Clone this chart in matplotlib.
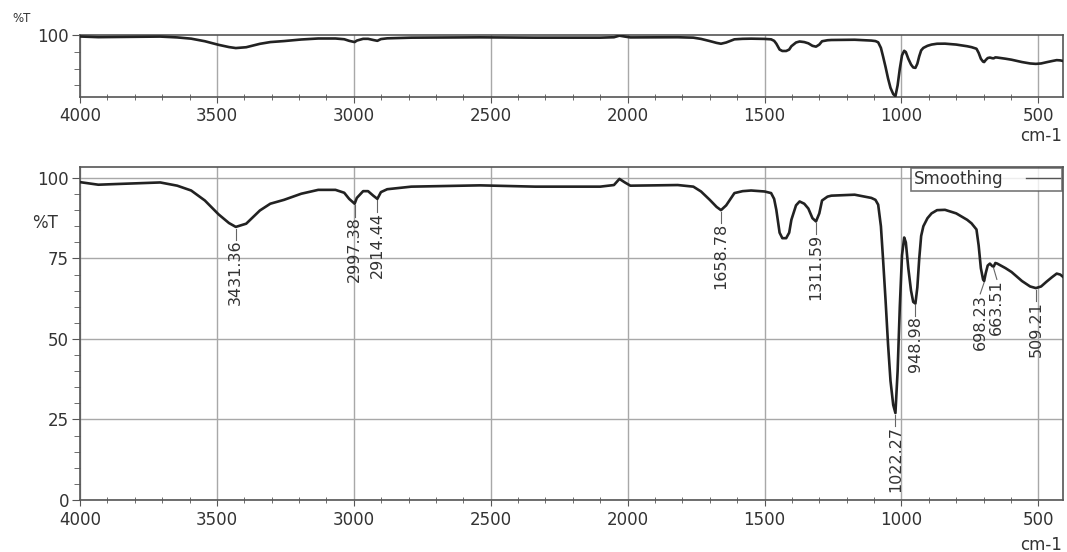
import matplotlib.pyplot as plt
from matplotlib.ticker import MultipleLocator, FixedLocator

# spectrum (wavenumber cm-1, %T)
wavenumber = [4000, 3933, 3871, 3707, 3645, 3594, 3544, 3494, 3456, 3431,
              3393, 3343, 3305, 3255, 3192, 3130, 3067, 3035, 3017, 2997,
              2989, 2966, 2948, 2929, 2914, 2901, 2878, 2790, 2539, 2338,
              2100, 2050, 2030, 2010, 1990, 1900, 1817, 1760, 1732, 1700,
              1675, 1659, 1640, 1610, 1580, 1549, 1500, 1476, 1465, 1457,
              1445, 1435, 1421, 1410, 1402, 1385, 1372, 1355, 1340, 1325,
              1312, 1300, 1290, 1270, 1256, 1171, 1110, 1095, 1085, 1075,
              1067, 1058, 1049, 1040, 1030, 1022, 1014, 1006, 998, 990,
              984, 975, 965, 957, 949, 942, 935, 928, 920, 905,
              890, 870, 841, 800, 760, 744, 726, 718, 710, 702,
              698, 692, 685, 677, 668, 663, 657, 650, 620, 598,
              560, 530, 509, 490, 470, 450, 433, 420, 410]
transmittance = [98.7, 97.9, 98.1, 98.6, 97.6, 96.1, 93.0, 88.7, 86.0, 84.8,
                 85.8, 89.9, 92.0, 93.2, 95.1, 96.3, 96.3, 95.4, 93.5, 92.0,
                 93.8, 95.9, 95.9, 94.5, 93.5, 95.6, 96.5, 97.3, 97.7, 97.3,
                 97.3, 97.8, 99.7, 98.6, 97.6, 97.7, 97.8, 97.3, 95.8, 93.2,
                 91.0, 90.0, 91.5, 95.3, 95.9, 96.1, 95.8, 95.3, 93.5, 90.1,
                 83.0, 81.3, 81.3, 83.0, 87.0, 91.5, 92.7, 92.0, 90.5, 87.5,
                 86.5, 89.0, 93.0, 94.2, 94.5, 94.8, 93.8, 93.2, 91.7, 85.0,
                 74.5, 62.0, 48.4, 37.0, 29.5, 27.0, 40.0, 60.0, 76.0, 81.5,
                 80.0, 72.0, 65.0, 61.5, 61.0, 66.0, 75.0, 82.0, 85.0, 87.5,
                 89.0, 90.0, 90.1, 89.0, 87.0, 85.9, 84.0, 79.0, 72.0, 68.5,
                 68.0, 70.5, 72.8, 73.4, 72.6, 72.5, 73.6, 73.4, 72.0, 70.8,
                 68.0, 66.3, 65.8, 66.3, 67.8, 69.2, 70.3, 70.0, 69.3]

# peak picks
peak_wn = [3431.36, 2997.38, 2914.44, 1658.78, 1311.59, 1022.27, 948.98, 698.23, 663.51, 509.21]
peak_t = [84.8, 92.0, 93.5, 90.0, 86.5, 27.0, 61.0, 68.0, 72.5, 65.8]
label_shift = [0, 0, 0, 0, 0, 0, 0, 14, -12, 0]

W, H = 1067, 552
fig = plt.figure(figsize=(W / 100, H / 100), dpi=100)
ax_top = fig.add_axes([80 / W, 1 - 97 / H, 983 / W, 62 / H])
ax = fig.add_axes([80 / W, 1 - 500 / H, 983 / W, 333 / H])

line_c = "#222222"
grid_c = "#a8a8a8"
txt_c = "#333333"

for a in (ax_top, ax):
    a.plot(wavenumber, transmittance, color=line_c, lw=1.9, label="Smoothing", zorder=3)
    a.set_xlim(4000, 410)
    a.xaxis.set_major_locator(MultipleLocator(500))
    a.xaxis.set_minor_locator(MultipleLocator(100))
    a.grid(axis="x", which="major", color=grid_c, lw=1)
    for s in a.spines.values():
        s.set_color("#555555")
        s.set_linewidth(1.2)
    a.tick_params(axis="both", which="both", colors="#555555", labelcolor=txt_c,
                  labelsize=12)
    a.tick_params(axis="y", which="major", direction="out", length=6, pad=2)
    a.tick_params(axis="y", which="minor", direction="out", length=4)
    a.tick_params(axis="x", which="major", direction="out", length=4, pad=4)
    a.tick_params(axis="x", which="minor", direction="inout", length=4)

# top overview panel
ax_top.set_ylim(26, 100.5)
ax_top.yaxis.set_major_locator(FixedLocator([100]))
ax_top.yaxis.set_minor_locator(FixedLocator([80, 60, 40]))
ax_top.tick_params(axis="x", which="major", pad=3)

# bottom panel
ax.set_ylim(0, 103.4)
ax.yaxis.set_major_locator(MultipleLocator(25))
ax.yaxis.set_minor_locator(MultipleLocator(5))
ax.grid(axis="y", which="major", color=grid_c, lw=1)
ax.set_axisbelow(True)

for wn, t, dx in zip(peak_wn, peak_t, label_shift):
    ax.plot([wn, wn + dx], [t - 0.5, t - 4.0], color="#666666", lw=0.8, zorder=2)
    ax.text(wn + dx, t - 4.0, f"{wn:.2f}", rotation=90, ha="center", va="top",
            fontsize=11.5, color=txt_c, zorder=4)

leg = ax.legend(loc="upper right", markerfirst=False, fontsize=12, frameon=True,
                fancybox=False, edgecolor="#555555", borderpad=0.15,
                borderaxespad=0.05, handlelength=2.0, handletextpad=1.4)
leg.get_frame().set_linewidth(1.2)
for ln in leg.get_lines():
    ln.set_linewidth(1.0)
    ln.set_color("#555555")
for t in leg.get_texts():
    t.set_color(txt_c)

fig.text(12 / W, 1 - 18 / H, "%T", fontsize=8.5, color=txt_c, ha="left", va="center")
fig.text(45 / W, 1 - 223 / H, "%T", fontsize=12, color=txt_c, ha="center", va="center")
fig.text(1041 / W, 1 - 136 / H, "cm-1", fontsize=12, color=txt_c, ha="center", va="center")
fig.text(1041 / W, 1 - 545 / H, "cm-1", fontsize=12, color=txt_c, ha="center", va="center")

fig.savefig("out.png", dpi=100)
